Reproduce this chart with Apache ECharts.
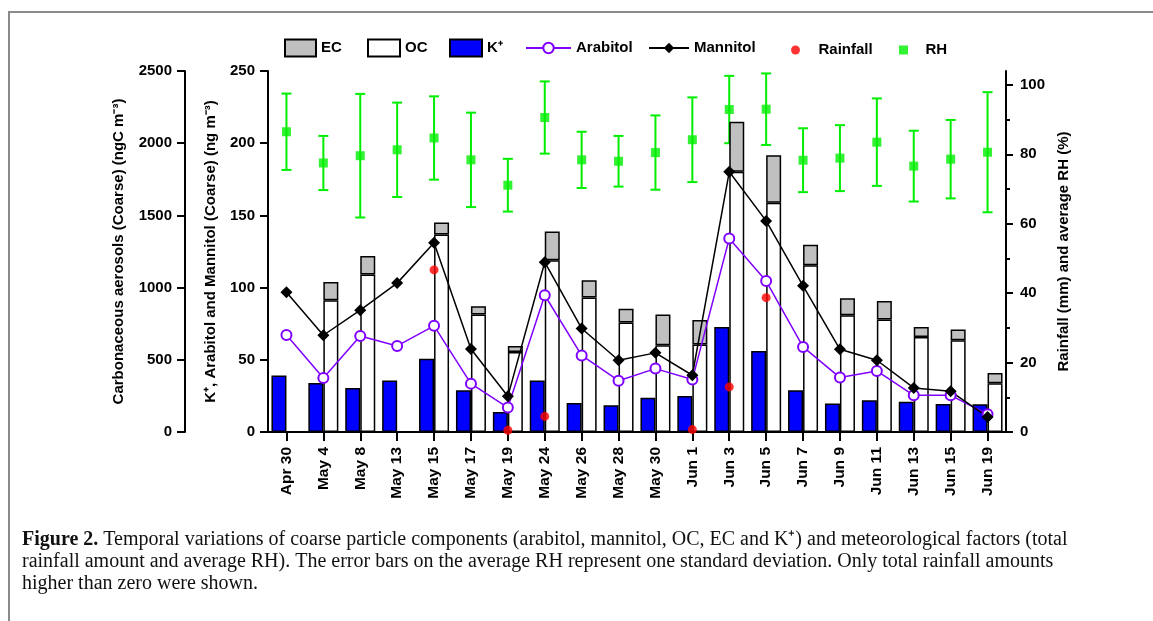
<!DOCTYPE html>
<html><head><meta charset="utf-8">
<script src="https://cdn.jsdelivr.net/npm/echarts@6/dist/echarts.min.js"></script>
<style>html,body{margin:0;padding:0;background:#fff}#c{width:1153px;height:621px}</style>
</head><body><div id="c"></div>
<script>
// ---- data ----
const categories = ['Apr 30','May 4','May 8','May 13','May 15','May 17','May 19','May 24','May 26','May 28','May 30','Jun 1','Jun 3','Jun 5','Jun 7','Jun 9','Jun 11','Jun 13','Jun 15','Jun 19'];
const kPlus    = [39.1, 34.0, 30.5, 35.6, 50.8, 28.9, 13.9, 35.6, 20.1, 18.5, 23.8, 24.9, 72.8, 56.1, 28.9, 19.7, 22.0, 21.0, 19.4, 19.2];
const ocValues = [null, 913, 1091, null, 1368, 814, 554, 1190, 932, 758, 601, 606, 1802, 1587, 1155, 809, 779, 658, 636, 338];
const ecValues = [null, 125, 127, null, 83, 57, 42, 199, 119, 95, 213, 170, 347, 329, 141, 118, 129, 70, 74, 71];
const arabitol = [67.2, 37.4, 66.5, 59.6, 73.5, 33.5, 16.9, 94.7, 53.0, 35.5, 43.9, 36.3, 134.0, 104.5, 58.9, 37.7, 42.3, 25.4, 25.4, 12.3];
const mannitol = [96.8, 67.0, 84.4, 103.1, 131.0, 57.5, 24.7, 117.6, 71.7, 49.7, 54.8, 39.3, 180.2, 146.2, 101.2, 57.3, 49.7, 30.5, 28.2, 10.4];
const rainfall = [null, null, null, null, 46.7, null, 0.5, 4.5, null, null, null, 0.7, 13.0, 38.7, null, null, null, null, null, null];
const rhMean   = [86.5, 77.5, 79.6, 81.3, 84.7, 78.4, 71.1, 90.6, 78.4, 78.0, 80.5, 84.2, 92.9, 93.0, 78.3, 78.9, 83.5, 76.6, 78.6, 80.6];
const rhSd     = [11.0, 7.8, 17.8, 13.6, 12.0, 13.6, 7.6, 10.4, 8.1, 7.3, 10.7, 12.2, 9.7, 10.3, 9.2, 9.5, 12.6, 10.2, 11.3, 17.3];
const carbonTicks = [0, 500, 1000, 1500, 2000, 2500];
const massTicks   = [0, 50, 100, 150, 200, 250];
const rightTicks  = [0, 20, 40, 60, 80, 100];
const rightMinor  = [10, 30, 50, 70, 90];

const FONT = '"Liberation Sans", Arial, Helvetica, sans-serif';
const SERIF = '"Liberation Serif", "Times New Roman", serif';
const BLUE = '#0000ff', PURPLE = '#8000ff', GREEN = '#00ee00', RED = '#ff0000', GRAY = '#c0c0c0';

const chart = echarts.init(document.getElementById('c'), null, {renderer: 'canvas'});

const lblStyle = {fontSize: 15, fontWeight: 'bold', color: '#000', fontFamily: FONT};
const axLine = {show: true, lineStyle: {color: '#000', width: 2}};
const axTick = (len) => ({show: true, length: len, lineStyle: {color: '#000', width: 2}});
const plain = (v) => String(v);

function legendOf(name, left, w, h, icon) {
  return {
    data: [icon ? {name: name, icon: icon} : name],
    left: left, top: 47 - h / 2, itemWidth: w, itemHeight: h,
    padding: 0, selectedMode: false,
    textStyle: Object.assign({}, lblStyle)
  };
}

const option = {
  animation: false,
  backgroundColor: '#fff',
  grid: {left: 268, right: 147, top: 71, bottom: 189, containLabel: false},
  legend: [
    legendOf('EC', 284, 31, 17, 'rect'),
    legendOf('OC', 367, 32, 17, 'rect'),
    legendOf('K⁺', 449, 32, 17, 'rect'),
    legendOf('Arabitol', 525, 45, 13),
    legendOf('Mannitol', 648, 40, 13),
    legendOf('Rainfall', 791, 36, 9),
    legendOf('RH', 899, 34, 9, 'path://M0 0H10V10H0Z')
  ],
  xAxis: {
    type: 'category', data: categories, boundaryGap: true,
    axisLine: axLine, axisTick: Object.assign(axTick(9), {alignWithLabel: true, interval: 0}),
    axisLabel: Object.assign({rotate: 90, margin: 15, interval: 0}, lblStyle, {fontSize: 15.5}),
    splitLine: {show: false}
  },
  yAxis: [
    {
      type: 'value', position: 'left', offset: 83, min: 0, max: 2500, interval: 500,
      axisLine: axLine, axisTick: axTick(8), splitLine: {show: false},
      axisLabel: Object.assign({margin: 13, customValues: carbonTicks, formatter: plain}, lblStyle),
      name: 'Carbonaceous aerosols (Coarse) (ngC m⁻³)', nameLocation: 'middle', nameGap: 59, nameRotate: 90,
      nameTextStyle: Object.assign({}, lblStyle)
    },
    {
      type: 'value', position: 'left', offset: 0, min: 0, max: 250, interval: 50,
      axisLine: axLine, axisTick: axTick(8), splitLine: {show: false},
      axisLabel: Object.assign({margin: 13, customValues: massTicks, formatter: plain}, lblStyle),
      name: 'K⁺, Arabitol and Mannitol (Coarse) (ng m⁻³)', nameLocation: 'middle', nameGap: 50, nameRotate: 90,
      nameTextStyle: Object.assign({}, lblStyle)
    },
    {
      type: 'value', position: 'right', offset: 0, min: 0, max: 104,
      axisLine: axLine,
      axisTick: Object.assign(axTick(7), {customValues: rightTicks}),
      splitLine: {show: false},
      axisLabel: Object.assign({margin: 14, customValues: rightTicks, formatter: plain}, lblStyle),
      name: 'Rainfall (mm) and average RH (%)', nameLocation: 'middle', nameGap: 41, nameRotate: 90,
      nameTextStyle: Object.assign({}, lblStyle)
    },
    {
      type: 'value', position: 'right', offset: 0, min: 0, max: 104,
      axisLine: {show: false},
      axisTick: Object.assign(axTick(4), {customValues: rightMinor}),
      axisLabel: {show: false}, splitLine: {show: false}
    }
  ],
  series: [
    {
      name: 'K⁺', type: 'bar', yAxisIndex: 1, stack: 'k', data: kPlus,
      barWidth: 15, barGap: '0%', z: 2,
      itemStyle: {color: BLUE, borderColor: '#000', borderWidth: 1.5}
    },
    {
      name: 'OC', type: 'bar', yAxisIndex: 0, stack: 'c', data: ocValues,
      barWidth: 15, barGap: '0%', z: 2,
      itemStyle: {color: '#ffffff', borderColor: '#000', borderWidth: 1.5}
    },
    {
      name: 'EC', type: 'bar', yAxisIndex: 0, stack: 'c', data: ecValues,
      barWidth: 15, barGap: '0%', z: 2,
      itemStyle: {color: GRAY, borderColor: '#000', borderWidth: 1.5}
    },
    {
      name: 'Arabitol', type: 'line', yAxisIndex: 1, data: arabitol, z: 3,
      symbol: 'emptyCircle', symbolSize: 10,
      lineStyle: {color: PURPLE, width: 1.5},
      itemStyle: {color: PURPLE, borderWidth: 1.5}
    },
    {
      name: 'Mannitol', type: 'line', yAxisIndex: 1, data: mannitol, z: 3,
      symbol: 'diamond', symbolSize: 12,
      lineStyle: {color: '#000', width: 1.5},
      itemStyle: {color: '#000'}
    },
    {
      name: 'Rainfall', type: 'scatter', yAxisIndex: 2, data: rainfall, z: 4,
      symbol: 'circle', symbolSize: 9,
      itemStyle: {color: RED}
    },
    {
      name: 'RH sd', type: 'custom', yAxisIndex: 2, z: 1,
      data: rhMean.map((m, i) => [i, m - rhSd[i], m + rhSd[i]]),
      encode: {x: 0, y: [1, 2]},
      renderItem: function (params, api) {
        const x = api.value(0);
        const lo = api.coord([x, api.value(1)]);
        const hi = api.coord([x, api.value(2)]);
        const hw = 5;
        const st = {stroke: GREEN, lineWidth: 2};
        return {type: 'group', children: [
          {type: 'line', shape: {x1: lo[0], y1: lo[1], x2: hi[0], y2: hi[1]}, style: st},
          {type: 'line', shape: {x1: lo[0] - hw, y1: lo[1], x2: lo[0] + hw, y2: lo[1]}, style: st},
          {type: 'line', shape: {x1: hi[0] - hw, y1: hi[1], x2: hi[0] + hw, y2: hi[1]}, style: st}
        ]};
      }
    },
    {
      name: 'RH', type: 'scatter', yAxisIndex: 2, data: rhMean, z: 4,
      symbol: 'rect', symbolSize: 9,
      itemStyle: {color: GREEN}
    }
  ],
  graphic: [
    {type: 'line', shape: {x1: 8, y1: 12, x2: 1153, y2: 12}, style: {stroke: '#8a8a8a', lineWidth: 2}, silent: true},
    {type: 'line', shape: {x1: 9, y1: 11, x2: 9, y2: 621}, style: {stroke: '#8a8a8a', lineWidth: 2}, silent: true},
    {
      type: 'text', left: 22, top: 530, silent: true,
      style: {
        text: '{b|Figure 2.} {n|Temporal variations of coarse particle components (arabitol, mannitol, OC, EC and K⁺) and meteorological factors (total}',
        rich: {
          b: {fontFamily: SERIF, fontSize: 20, fontWeight: 'bold', fill: '#111'},
          n: {fontFamily: SERIF, fontSize: 20, fontWeight: 'normal', fill: '#111'}
        },
        fontFamily: SERIF, fontSize: 20, fill: '#111'
      }
    },
    {
      type: 'text', left: 22, top: 552, silent: true,
      style: {text: 'rainfall amount and average RH). The error bars on the average RH represent one standard deviation. Only total rainfall amounts',
        fontFamily: SERIF, fontSize: 20, fill: '#111'}
    },
    {
      type: 'text', left: 22, top: 574, silent: true,
      style: {text: 'higher than zero were shown.', fontFamily: SERIF, fontSize: 20, fill: '#111'}
    }
  ]
};
chart.setOption(option);
</script>
</body></html>
